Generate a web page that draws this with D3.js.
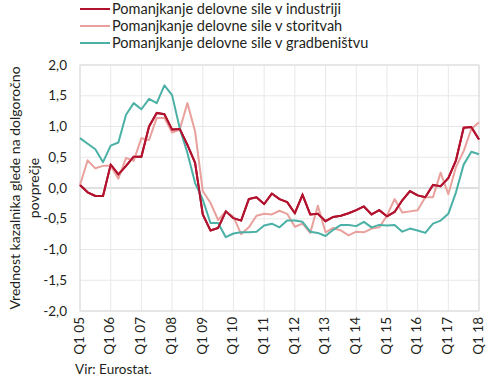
<!DOCTYPE html>
<html><head><meta charset="utf-8">
<script src="https://cdn.jsdelivr.net/npm/d3@7"></script>
<style>body{margin:0;background:#fff}svg{display:block}text{font-family:Lato,"Noto Sans",sans-serif;fill:#231f20}</style>
</head><body><svg id="c" width="490" height="382"></svg>
<script>
const yearTicks = ["Q1 05","Q1 06","Q1 07","Q1 08","Q1 09","Q1 10","Q1 11","Q1 12","Q1 13","Q1 14","Q1 15","Q1 16","Q1 17","Q1 18"];
const yTicks = [-2,-1.5,-1,-0.5,0,0.5,1,1.5,2];
const seriesNames = ["Pomanjkanje delovne sile v industriji","Pomanjkanje delovne sile v storitvah","Pomanjkanje delovne sile v gradbeništvu"];
const seriesColors = ["#b2122e","#e8a19d","#4bb0a6"];
const industrija = [0.05,-0.07,-0.13,-0.13,0.38,0.22,0.36,0.51,0.51,1.0,1.22,1.2,0.95,0.96,0.70,0.41,
 -0.43,-0.69,-0.65,-0.38,-0.49,-0.53,-0.18,-0.15,-0.26,-0.09,-0.18,-0.23,-0.41,-0.11,-0.43,-0.42,-0.54,-0.47,-0.45,-0.41,
 -0.36,-0.30,-0.43,-0.36,-0.46,-0.39,-0.20,-0.05,-0.12,-0.15,0.05,0.03,0.16,0.45,0.98,0.99,0.79];
const storitve = [0.05,0.45,0.32,0.36,0.36,0.15,0.49,0.44,0.81,0.78,1.14,1.14,0.90,0.95,1.38,0.92,
 -0.05,-0.24,-0.52,-0.38,-0.47,-0.75,-0.64,-0.45,-0.42,-0.43,-0.37,-0.42,-0.63,-0.58,-0.73,-0.29,-0.72,-0.65,-0.69,-0.77,
 -0.71,-0.72,-0.66,-0.64,-0.45,-0.18,-0.40,-0.38,-0.36,-0.15,-0.15,0.25,-0.10,0.34,0.60,0.96,1.07];
const gradbenistvo = [0.81,0.72,0.63,0.42,0.69,0.74,1.19,1.38,1.28,1.45,1.38,1.67,1.51,0.97,0.57,0.08,
 -0.19,-0.57,-0.57,-0.80,-0.74,-0.72,-0.72,-0.71,-0.61,-0.58,-0.64,-0.53,-0.53,-0.55,-0.71,-0.73,-0.78,-0.68,-0.60,-0.60,
 -0.62,-0.55,-0.64,-0.60,-0.61,-0.60,-0.71,-0.66,-0.69,-0.73,-0.58,-0.53,-0.42,-0.07,0.38,0.59,0.55];
const series = [industrija, storitve, gradbenistvo];

const svg = d3.select("#c");
const L=80,R=479,T=65,B=311;
const x = d3.scaleLinear().domain([0,52]).range([L,R]);
const y = d3.scaleLinear().domain([-2,2]).range([B,T]);

const g = svg.append("g");
g.selectAll("line.h").data(yTicks).join("line")
 .attr("x1",L).attr("x2",R).attr("y1",d=>y(d)).attr("y2",d=>y(d))
 .attr("stroke",d=>d===0?"#d6d6d6":"#e8e8e8").attr("stroke-width",d=>d===0?1.5:1);
g.selectAll("line.v").data(yearTicks).join("line")
 .attr("x1",(d,i)=>x(i*4)).attr("x2",(d,i)=>x(i*4)).attr("y1",T).attr("y2",B)
 .attr("stroke","#e8e8e8");
g.append("rect").attr("x",L).attr("y",T).attr("width",R-L).attr("height",B-T)
 .attr("fill","none").attr("stroke","#d9d9d9");

const fmt = v => d3.format(".1f")(v).replace(".",",").replace("−","-");
svg.append("g").selectAll("text").data(yTicks).join("text")
 .attr("x",67).attr("y",d=>y(d)).attr("dy","0.35em").attr("text-anchor","end")
 .style("font-size","13.5px").text(fmt);

svg.append("g").selectAll("text").data(yearTicks).join("text")
 .attr("transform",(d,i)=>`translate(${x(i*4)-1},317) rotate(-90)`)
 .attr("dy","0.35em").attr("text-anchor","end").style("font-size","13.5px").text(d=>d);

const yt = svg.append("text").attr("transform","translate(15,188) rotate(-90)")
 .attr("text-anchor","middle").style("font-size","14px");
yt.append("tspan").attr("x",0).attr("dy","0.35em").text("Vrednost kazalnika glede na dolgoročno");
yt.append("tspan").attr("x",0).attr("dy","1.35em").text("povprečje");

const line = d3.line().x((d,i)=>x(i)).y(d=>y(d));
svg.append("g").selectAll("path").data(series).join("path")
 .attr("d",line).attr("fill","none").attr("stroke",(d,i)=>seriesColors[i])
 .attr("stroke-width",2).attr("stroke-linejoin","round");
svg.append("path").attr("d",line(industrija)).attr("fill","none").attr("stroke",seriesColors[0]).attr("stroke-width",2);

const lg = svg.append("g").selectAll("g").data(seriesNames).join("g")
 .attr("transform",(d,i)=>`translate(80,${9+i*17})`);
lg.append("line").attr("x1",0).attr("x2",30).attr("stroke",(d,i)=>seriesColors[i]).attr("stroke-width",2);
lg.append("text").attr("x",32).attr("dy","0.35em").style("font-size","14.5px").text(d=>d);

svg.append("text").attr("x",75).attr("y",374).style("font-size","13.5px").text("Vir: Eurostat.");
</script></body></html>
